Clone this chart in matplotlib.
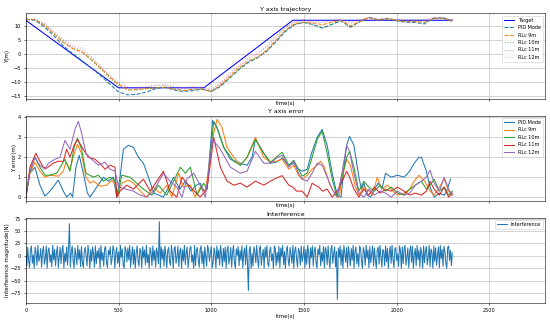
import numpy as np
import matplotlib
matplotlib.use('Agg')
import matplotlib.pyplot as plt
from matplotlib.ticker import MultipleLocator

# target trajectory corners
target_t = [0, 500, 960, 1440, 2300]
target_y = [12, -12, -12, 12, 12]

# tracked trajectories, sampled every 50 s
traj_t = list(range(0, 2301, 50))
pid_y = [12.3, 12.0, 9.6, 6.5, 3.0, 0.3, -2.2, -4.8, -7.5, -10.5, -13.5, -14.5, -14.3, -13.5, -12.3, -11.8,
         -12.8, -13.3, -13.0, -12.5, -13.3, -11.5, -8.5, -5.5, -3.0, -1.3, 1.0, 4.5, 8.0, 10.5, 11.2, 10.5,
         9.2, 10.5, 11.8, 9.5, 11.5, 13.0, 12.2, 12.6, 11.8, 11.3, 11.2, 10.7, 12.8, 12.9, 11.6]
rl9_y = [12.3, 12.2, 10.2, 7.2, 4.2, 2.0, 0.8, -1.8, -4.8, -8.0, -10.8, -12.8, -12.6, -12.3, -12.0, -11.8,
         -12.5, -13.0, -12.5, -12.5, -13.3, -11.0, -8.0, -5.0, -2.5, -1.0, 1.5, 5.0, 8.5, 10.8, 11.3, 11.0,
         10.4, 11.3, 12.0, 10.0, 11.5, 12.9, 12.0, 12.5, 12.0, 11.5, 11.5, 11.2, 12.6, 12.7, 11.8]
rl10_y = [12.3, 12.2, 10.3, 7.4, 4.4, 2.1, 0.8, -2.0, -5.2, -8.5, -11.2, -12.8, -12.8, -12.4, -12.0, -11.7,
          -12.3, -12.9, -12.6, -12.4, -13.4, -11.2, -8.3, -5.3, -2.8, -1.2, 1.2, 4.8, 8.3, 10.6, 11.2, 10.2,
          9.2, 10.8, 11.9, 9.6, 11.3, 12.9, 12.1, 12.5, 12.0, 11.6, 11.6, 11.3, 12.5, 12.6, 11.8]
rl11_y = [12.4, 12.3, 10.7, 7.8, 5.0, 2.6, 1.5, -1.2, -4.5, -7.8, -10.5, -12.0, -12.2, -11.8, -11.2, -11.0,
          -11.8, -12.3, -11.8, -12.0, -12.8, -10.5, -7.3, -4.3, -1.8, 0.0, 2.5, 6.0, 9.3, 11.3, 11.8, 11.5,
          11.2, 11.8, 12.2, 11.0, 12.0, 13.0, 12.2, 12.7, 12.2, 12.0, 12.0, 12.0, 12.8, 12.8, 12.0]
rl12_y = [12.5, 12.4, 11.0, 8.2, 5.4, 3.2, 2.2, -0.6, -4.0, -7.3, -10.0, -11.7, -12.0, -11.5, -11.0, -10.8,
          -11.5, -12.0, -11.5, -11.8, -12.5, -10.0, -6.8, -3.8, -1.3, 0.5, 3.0, 6.5, 9.8, 11.5, 12.0, 11.8,
          11.7, 12.0, 12.3, 11.5, 12.2, 13.0, 12.4, 12.8, 12.3, 12.2, 12.2, 12.3, 13.1, 13.0, 12.2]

# Y axis error, knots
pid_err_t = [0, 22, 49, 76, 103, 130, 175, 202, 220, 241, 252, 270, 288, 310, 332, 346, 382, 418, 445, 472,
             490, 508, 526, 553, 580, 607, 634, 661, 690, 742, 770, 797, 830, 860, 890, 920, 940, 960, 977,
             1007, 1030, 1067, 1103, 1130, 1157, 1193, 1220, 1238, 1283, 1319, 1350, 1382, 1418, 1445, 1470,
             1490, 1517, 1544, 1571, 1598, 1625, 1652, 1679, 1700, 1715, 1730, 1746, 1769, 1796, 1810, 1823,
             1840, 1859, 1880, 1900, 1920, 1940, 1970, 2004, 2040, 2070, 2094, 2120, 2133, 2160, 2180, 2202,
             2230, 2256, 2270, 2290]
pid_err = [0.0, 1.2, 1.5, 0.6, 0.05, 0.3, 0.85, 0.3, 0.0, 0.2, 0.0, 1.5, 2.1, 1.2, 0.2, 0.0, 0.5, 1.0, 0.8, 1.0,
           0.0, 1.0, 2.4, 2.6, 2.5, 2.0, 1.7, 1.0, 0.2, 0.0, 0.5, 1.0, 0.4, 0.8, 0.3, 0.6, 0.7, 0.3, 0.5,
           3.85, 3.5, 2.5, 1.9, 1.8, 1.7, 1.6, 2.0, 2.9, 2.2, 1.7, 1.75, 1.95, 1.6, 1.7, 1.4,
           1.3, 1.4, 2.3, 3.0, 3.4, 2.6, 1.2, 0.1, 0.0, 1.5, 2.6, 3.05, 2.6, 1.0, 0.4, 0.7,
           0.1, 0.0, 0.4, 0.7, 0.4, 1.2, 1.0, 1.1, 1.0, 1.3, 1.7, 2.0, 2.0, 1.3, 0.5, 0.0,
           0.2, 0.1, 0.3, 0.9]

rl9_err_t = [0, 22, 49, 76, 103, 130, 175, 202, 216, 238, 265, 278, 300, 324, 346, 364, 400, 436, 463, 481,
             494, 517, 553, 580, 616, 652, 688, 724, 760, 787, 824, 850, 887, 913, 940, 968, 1013, 1031,
             1058, 1085, 1121, 1157, 1193, 1238, 1283, 1319, 1350, 1382, 1418, 1445, 1470, 1490, 1517, 1544,
             1571, 1589, 1610, 1640, 1670, 1690, 1706, 1730, 1750, 1775, 1796, 1823, 1850, 1870, 1895, 1920,
             1950, 1980, 2004, 2040, 2070, 2094, 2120, 2150, 2180, 2202, 2230, 2256, 2280, 2300]
rl9_err = [0.0, 1.2, 1.75, 1.3, 1.0, 1.1, 1.05, 1.3, 1.75, 1.4, 2.3, 2.65, 2.2, 1.0, 0.7, 0.8, 0.55, 0.6, 0.85, 0.65,
           0.0, 0.7, 0.85, 0.7, 0.3, 0.0, 0.5, 0.2, 0.6, 0.0, 1.2, 0.5, 0.6, 0.0, 0.5, 0.3, 3.2, 3.9,
           3.5, 2.5, 2.0, 1.6, 2.0, 3.0, 2.0, 1.75, 1.8, 1.9, 1.4, 1.6, 1.1, 0.9, 1.1, 1.4,
           1.6, 1.8, 1.5, 0.6, 0.1, 0.0, 1.0, 1.9, 1.6, 0.6, 0.1, 0.5, 0.3, 0.1, 1.0, 0.4,
           0.6, 0.3, 0.1, 0.2, 0.4, 0.8, 1.1, 0.8, 0.3, 0.1, 0.5, 0.9, 0.3, 0.1]

rl10_err_t = [0, 22, 49, 76, 103, 130, 166, 211, 238, 260, 278, 301, 324, 364, 391, 418, 454, 481, 494, 517,
              562, 598, 634, 680, 715, 760, 833, 860, 887, 923, 959, 977, 1013, 1031, 1067, 1121, 1157,
              1193, 1238, 1283, 1319, 1350, 1382, 1418, 1445, 1470, 1490, 1517, 1544, 1571, 1598, 1625,
              1652, 1679, 1706, 1730, 1746, 1769, 1796, 1823, 1850, 1880, 1910, 1940, 1970, 2004, 2040,
              2070, 2100, 2133, 2160, 2180, 2202, 2230, 2256, 2280, 2300]
rl10_err = [0.0, 1.3, 2.0, 1.5, 1.1, 1.1, 1.2, 1.9, 1.3, 2.5, 2.95, 2.4, 1.2, 1.0, 1.1, 0.8, 1.0, 0.85, 0.0, 1.1,
            1.0, 0.7, 0.4, 0.1, 0.6, 0.1, 1.5, 1.2, 1.5, 0.1, 0.7, 0.4, 3.8, 3.5, 2.5, 1.8, 1.6,
            2.0, 2.9, 2.2, 1.75, 2.0, 2.25, 1.6, 1.85, 1.4, 1.05, 1.2, 2.0, 2.9, 3.3, 2.2,
            0.9, 0.0, 1.0, 2.0, 2.3, 1.5, 0.3, 0.8, 0.5, 0.3, 0.6, 0.3, 0.5, 0.2, 0.1,
            0.4, 0.6, 0.8, 0.4, 0.6, 0.9, 0.3, 0.5, 0.1, 0.3]

rl11_err_t = [0, 22, 54, 76, 94, 112, 148, 175, 202, 220, 238, 260, 278, 310, 337, 373, 409, 427, 454, 481,
              490, 508, 544, 580, 634, 670, 742, 778, 814, 842, 887, 940, 977, 1013, 1049, 1085, 1121,
              1157, 1193, 1238, 1283, 1319, 1350, 1382, 1418, 1440, 1460, 1490, 1517, 1544, 1560, 1580,
              1600, 1625, 1652, 1679, 1706, 1730, 1746, 1769, 1796, 1823, 1850, 1880, 1910, 1940, 1970,
              2004, 2040, 2070, 2100, 2133, 2160, 2180, 2202, 2230, 2256, 2280, 2300]
rl11_err = [0.0, 1.5, 2.2, 1.8, 1.5, 1.45, 1.7, 1.8, 1.8, 2.4, 2.0, 2.6, 2.9, 2.4, 2.0, 1.9, 1.6, 1.4, 1.6, 1.5,
            0.0, 0.3, 0.6, 0.4, 0.9, 0.3, 1.3, 0.3, 0.0, 1.0, 0.5, 0.0, 0.4, 3.0, 1.5, 0.8, 0.6,
            0.7, 0.5, 0.8, 0.6, 0.8, 0.95, 1.08, 0.6, 0.5, 0.3, 0.3, 0.0, 0.7, 0.6, 0.5,
            0.3, 0.4, 0.0, 0.3, 0.8, 1.3, 1.0, 0.4, 0.0, 0.4, 0.1, 0.5, 0.2, 0.4, 0.3,
            0.5, 0.3, 0.1, 0.2, 0.1, 0.3, 0.8, 0.4, 0.1, 0.5, 0.0, 0.2]

rl12_err_t = [0, 22, 49, 76, 103, 121, 157, 184, 211, 238, 265, 283, 301, 324, 355, 391, 427, 454, 481, 500,
              580, 616, 652, 688, 742, 778, 814, 842, 868, 905, 940, 968, 1007, 1049, 1103, 1157, 1193,
              1238, 1283, 1319, 1350, 1382, 1418, 1445, 1470, 1490, 1517, 1544, 1571, 1598, 1625, 1652,
              1679, 1706, 1730, 1746, 1769, 1796, 1823, 1850, 1880, 1910, 1940, 1970, 2004, 2040, 2070,
              2100, 2133, 2160, 2180, 2202, 2230, 2256, 2280, 2300]
rl12_err = [0.0, 1.3, 2.0, 1.6, 1.4, 1.7, 1.9, 2.0, 2.85, 2.4, 3.4, 3.8, 3.2, 2.2, 1.9, 1.6, 1.75, 1.4, 1.3, 0.5,
            0.3, 0.1, 0.0, 0.3, 1.2, 0.8, 0.5, 0.0, 0.9, 1.2, 0.6, 0.0, 2.9, 2.4, 1.5, 1.2, 1.3,
            2.3, 1.7, 1.7, 1.95, 2.1, 1.5, 1.8, 1.2, 0.9, 0.8, 1.2, 1.7, 1.6, 1.0, 0.4,
            0.0, 1.3, 2.6, 2.3, 1.2, 0.2, 0.0, 0.4, 0.1, 0.3, 0.2, 0.0, 0.3, 0.1, 0.2,
            0.6, 0.8, 1.0, 1.35, 0.7, 0.3, 1.0, 0.4, 0.1]

# interference force, one sample every 5 s
interf_t = np.arange(0, 2301, 5)
interf = [4, -21, 17, -9, -24, 12, 20, -15, 2, -25, 18, 7, -19, 21, -11, -3, 15, -23, 9, 19,
          -17, -6, 20, -25, 11, 16, -13, 3, -22, 21, -8, 13, -20, 6, 19, -24, -1, 17, -16, 10,
          21, -25, 5, -12, 18, -19, 14, 65, -23, 8, 20, -10, -25, 16, 1, -18, 21, -7, 12, -22,
          19, -14, -24, 9, 17, -2, -20, 21, 6, -25, 13, -11, 18, 3, -23, 20, -16, 10, -5, 16,
          -25, 21, -9, 7, -21, 15, 19, -13, -24, 11, 2, 18, -18, -6, 20, 12, -25, 5, 17, -15,
          8, -22, 21, -3, 14, -19, -25, 19, 10, -12, 16, -8, 21, -23, 0, 18, -17, 13, -25, 6,
          20, -10, -21, 15, 9, -24, 19, -4, 12, -18, 21, -14, 3, -25, 17, 7, -20, 20, -9, 11,
          -23, 16, 5, -16, 69, -25, 18, -7, 13, -21, 20, 1, -24, 10, 17, -12, -19, 21, 4, -25,
          14, 19, -15, -2, 20, -22, 8, 16, -25, 12, -10, 21, -18, 6, 18, -24, -5, 15, 19, -13,
          2, -25, 21, -20, 11, 17, -8, -23, 14, 20, -16, 9, -25, 18, -1, -21, 21, 13, -11, 5,
          19, -24, -14, 16, 7, -25, 20, -6, 12, -19, 21, 3, -22, 15, -12, 18, -25, 10, 20, -17,
          -4, 17, -23, 8, 21, -15, -25, 14, 1, 19, -20, 11, -9, 20, -24, 6, 16, -18, 21, -11,
          -70, 12, 19, -25, 5, -21, 18, 9, -14, 21, -7, -24, 15, 20, -19, 2, 13, -25, 17, -3,
          21, -16, -22, 10, 18, -10, 4, -25, 20, 14, -20, 7, -13, 19, -24, 16, -1, 21, -18, 8,
          -25, 12, 20, -9, -21, 17, 3, -15, 21, -25, 11, 18, -6, -23, 15, 9, -19, 20, -12, 0,
          19, -24, 13, -17, 21, 6, -25, 16, -4, 20, -21, 10, 18, -14, -25, 14, 2, 21, -20, 7,
          -11, 19, -24, 17, 11, -18, 20, -7, -25, 13, 21, -15, 4, 18, -22, 9, -88, 16, -3, 20,
          -19, 12, -25, 21, 6, -13, 17, -23, 19, 1, -20, 15, -9, 21, -25, 10, 18, -16, 5, -22,
          20, 14, -11, -25, 17, 8, -19, 21, -5, 12, -24, 19, -14, 3, 20, -21, 16, -8, -25, 11,
          18, -17, 21, -2, -23, 13, 9, -20, 20, -12, 15, -25, 6, 19, -15, 21, -7, -24, 14, 17,
          -10, 4, -21, 20, 11, -25, 18, -16, 13, 21, -19, -3, 16, -24, 8, 20, -13, 19, -25, 2,
          15, -20, 21, -8, 12, -23, 17, 5, -25, 20, -14, 10, 19, -18, -4, 21, -22, 14, 7, -25,
          20, -11, 16, -19, 1, 18, -24, 21, -6, 13, -21, 19, 9, -15, -25, 17, 20, -9, 11, -20,
          6]

plt.rcParams['xtick.labelsize'] = 7.2
plt.rcParams['ytick.labelsize'] = 7.2
plt.rcParams['axes.labelsize'] = 8
plt.rcParams['axes.titlesize'] = 9
plt.rcParams['axes.titlepad'] = 3
plt.rcParams['axes.labelpad'] = 1
plt.rcParams['legend.fontsize'] = 7

fig, axs = plt.subplots(3, 1, figsize=(11, 6.48), dpi=50, sharex=True)
plt.subplots_adjust(left=0.047, right=0.991, top=0.959, bottom=0.064, hspace=0.197)

ax = axs[0]
ax.plot(target_t, target_y, color='b', label='Target')
ax.plot(traj_t, pid_y, '--', color='C0', label='PID Mode')
ax.plot(traj_t, rl9_y, '--', color='C1', label='RLc 9m')
ax.plot(traj_t, rl10_y, ':', color='C2', alpha=0.6, label='RLc 10m')
ax.plot(traj_t, rl11_y, ':', color='C3', alpha=0.5, label='RLc 11m')
ax.plot(traj_t, rl12_y, ':', color='C4', alpha=0.4, label='RLc 12m')
ax.set_title('Y axis trajectory')
ax.set_ylabel('Y(m)')
ax.set_xlabel('time(s)', labelpad=0)
ax.yaxis.set_major_locator(MultipleLocator(5))
ax.grid(True)
ax.legend(loc='upper right')

ax = axs[1]
ax.plot(pid_err_t, pid_err, color='C0', label='PID Mode')
ax.plot(rl9_err_t, rl9_err, color='C1', label='RLc 9m')
ax.plot(rl10_err_t, rl10_err, color='C2', label='RLc 10m')
ax.plot(rl11_err_t, rl11_err, color='C3', label='RLc 11m')
ax.plot(rl12_err_t, rl12_err, color='C4', label='RLc 12m')
ax.set_title('Y axis error')
ax.set_ylabel('Y error(m)')
ax.set_xlabel('time(s)', labelpad=0)
ax.yaxis.set_major_locator(MultipleLocator(1))
ax.grid(True)
ax.legend(loc='upper right')

ax = axs[2]
ax.plot(interf_t, interf, color='C0', label='Interference')
ax.set_title('Interference')
ax.set_ylabel('Interference magnitude(N)')
ax.set_xlabel('time(s)')
ax.set_xlim(0, 2800)
ax.yaxis.set_major_locator(MultipleLocator(25))
ax.grid(True)
ax.legend(loc='upper right')

plt.savefig('out.png')
